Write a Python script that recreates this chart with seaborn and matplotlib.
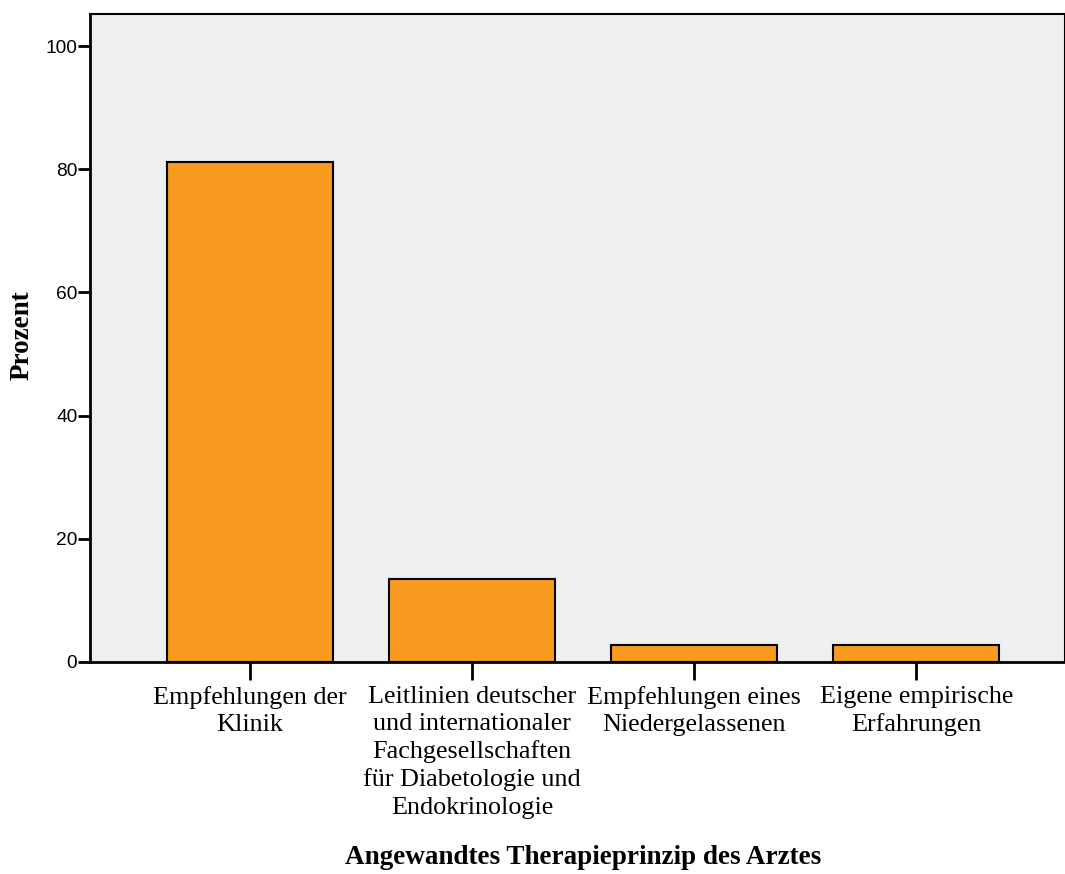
import matplotlib
matplotlib.use("Agg")
import matplotlib.pyplot as plt
import seaborn as sns
import pandas as pd

# Angewandtes Therapieprinzip des Arztes (Prozent)
categories = [
    "Empfehlungen der\nKlinik",
    "Leitlinien deutscher\nund internationaler\nFachgesellschaften\nfür Diabetologie und\nEndokrinologie",
    "Empfehlungen eines\nNiedergelassenen",
    "Eigene empirische\nErfahrungen",
]
prozent = [81.1, 13.5, 2.7, 2.7]

df = pd.DataFrame({"kategorie": categories, "prozent": prozent})

sns.set_style("white")
plt.rcParams["font.family"] = ["Liberation Sans", "DejaVu Sans"]
plt.rcParams["text.color"] = "black"
plt.rcParams["axes.labelcolor"] = "black"

fig = plt.figure(figsize=(10.65, 8.74), dpi=100)
ax = fig.add_axes([90 / 1065, 1 - 662 / 874, 1 - 90 / 1065, (662 - 14) / 874])
ax.set_facecolor("#EFEFEF")

sns.barplot(data=df, x="kategorie", y="prozent", color="#F89A1E",
            saturation=1, width=0.75, edgecolor="black", linewidth=1.5, ax=ax)

ax.set_xlim(-0.72, 3.67)
ax.set_ylim(0, 105.2)
ax.set_yticks([0, 20, 40, 60, 80, 100])
# tick lengths in points (12 px / 18 px at 100 dpi)
ax.tick_params(axis="y", direction="out", length=8.6, width=2, labelsize=13.8, pad=0.5,
               left=True, colors="black")
ax.tick_params(axis="x", direction="out", length=13, width=2, pad=4, bottom=True,
               colors="black")
for lab in ax.get_xticklabels():
    lab.set_fontfamily(["Liberation Serif", "DejaVu Serif"])
    lab.set_fontsize(18.8)
    lab.set_linespacing(1.3)

for s in ax.spines.values():
    s.set_color("black")
    s.set_linewidth(1.5)
ax.spines["bottom"].set_linewidth(2)
ax.spines["left"].set_linewidth(2)

ax.set_xlabel("Angewandtes Therapieprinzip des Arztes", fontsize=19.5, fontweight="bold",
              family=["Liberation Serif", "DejaVu Serif"])
ax.set_ylabel("Prozent", fontsize=19.5, fontweight="bold",
              family=["Liberation Serif", "DejaVu Serif"])
ax.xaxis.set_label_coords(0.506, -0.302)
ax.yaxis.set_label_coords(-0.0697, 0.505)
ax.xaxis.label.set_va("center")
ax.yaxis.label.set_va("center")

plt.savefig("out.png", dpi=100)
